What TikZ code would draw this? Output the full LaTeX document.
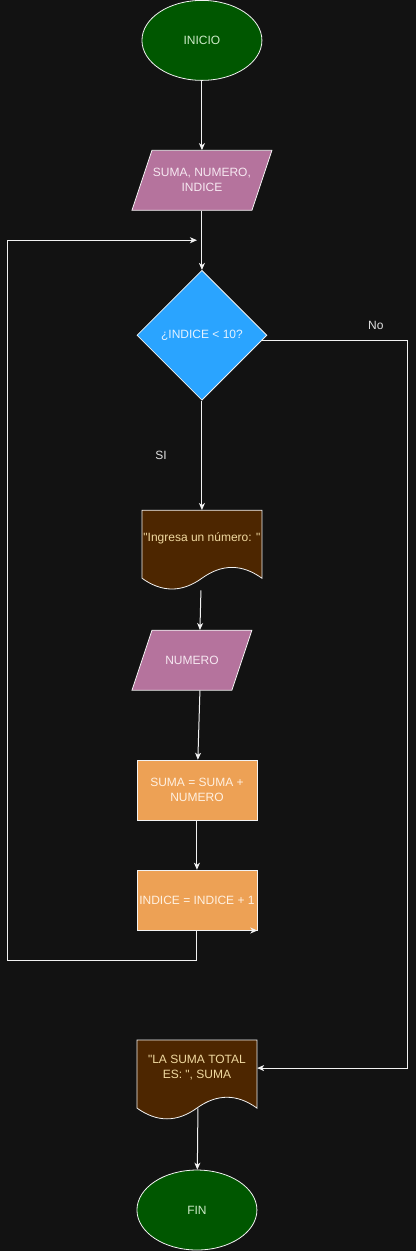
\documentclass[tikz,border=0pt]{standalone}
\usepackage{fontspec}
\newfontfamily\drawfont{Liberation Sans}
\usepackage{tikz}
\usetikzlibrary{shapes.geometric,arrows.meta,calc}

\definecolor{fondo}{HTML}{121212}
\definecolor{linea}{HTML}{F2F2F2}
\definecolor{verde}{HTML}{005700}
\definecolor{verdetxt}{HTML}{CDEBC8}
\definecolor{rosa}{HTML}{B5739D}
\definecolor{rosatxt}{HTML}{F6E8F1}
\definecolor{azul}{HTML}{2AA4FF}
\definecolor{azultxt}{HTML}{E3F2FF}
\definecolor{cafe}{HTML}{4D2600}
\definecolor{cafetxt}{HTML}{F0D9A0}
\definecolor{naranja}{HTML}{EDA155}
\definecolor{naranjatxt}{HTML}{FFF1E2}
\definecolor{etiq}{HTML}{E0E0E0}

\begin{document}
\begin{tikzpicture}[x=1pt, y=-1pt,
    texto/.style={font=\drawfont\fontsize{12}{15}\selectfont, align=center, inner sep=0pt},
    terminal/.style={texto, ellipse, draw=linea, fill=verde, text=verdetxt, line width=0.8pt, minimum width=120pt, minimum height=80pt},
    cuadro/.style={texto, minimum width=120pt, minimum height=60pt},
    proceso/.style={cuadro, draw=linea, fill=naranja, text=naranjatxt, line width=0.8pt},
    decision/.style={texto, diamond, aspect=1, draw=linea, fill=azul, text=azultxt, line width=0.8pt, minimum width=130pt, minimum height=130pt},
    etiqueta/.style={texto, text=etiq},
    forma/.style={draw=linea, line width=0.8pt},
    flecha/.style={draw=linea, line width=1pt, -{Stealth[length=7pt,width=6pt,inset=2pt]}}
  ]

    % fondo
    \fill[fondo] (0,0) rectangle (416,1251);

    % formas de entrada y salida
    \filldraw[forma, fill=rosa] (132,210) -- (152,150) -- (272,150) -- (252,210) -- cycle;
    \filldraw[forma, fill=rosa] (132,690) -- (152,630) -- (252,630) -- (232,690) -- cycle;
    \filldraw[forma, fill=cafe] (142,510) -- (262,510) -- (262,578)
        .. controls (242,563.6) and (222,563.6) .. (202,578)
        .. controls (182,592.4) and (162,592.4) .. (142,578) -- cycle;
    \filldraw[forma, fill=cafe] (137,1040) -- (257,1040) -- (257,1108)
        .. controls (237,1093.6) and (217,1093.6) .. (197,1108)
        .. controls (177,1122.4) and (157,1122.4) .. (137,1108) -- cycle;

    % nodos
    \node[terminal] (inicio) at (202,40) {INICIO};
    \node[cuadro, minimum width=140pt, text=rosatxt] (datos) at (202,180) {SUMA, NUMERO,\\INDICE};
    \node[decision] (cond) at (202,335) {¿INDICE < 10?};
    \node[cuadro, minimum height=56pt, text=cafetxt] (mensaje) at (202,538) {"Ingresa un número: "};
    \node[cuadro, text=rosatxt] (numero) at (192,660) {NUMERO};
    \node[proceso] (suma) at (197,790) {SUMA = SUMA +\\NUMERO};
    \node[proceso] (indice) at (197,900) {INDICE = INDICE + 1};
    \node[cuadro, minimum height=56pt, text=cafetxt] (resultado) at (197,1068) {"LA SUMA TOTAL\\ES: ", SUMA};
    \node[terminal] (fin) at (197,1210) {FIN};

    \node[etiqueta] (si) at (161,455) {SI};
    \node[etiqueta] (no) at (376,325) {No};

    \coordinate (retorno) at ($(datos.south)!0.5!(cond.north)$);

    % conectores
    \draw[flecha] (inicio) -- (datos);
    \draw[flecha] (datos) -- (cond);
    \draw[flecha] (cond) -- (mensaje);
    \draw[flecha] ($(mensaje.south)+(-1,24)$) -- ($(numero.north)+(8,0)$);
    \draw[flecha] ($(numero.south)+(8,0)$) -- (suma);
    \draw[flecha] (suma) -- (indice);
    \draw[flecha] (indice.south) -- ++(0,30) -- ++(-189,0) |- ($(retorno)+(-5,0)$);
    \draw[flecha] ($(indice.south east)+(-8,0)$) -- (indice.south east);
    \draw[flecha] ($(cond.east)+(-5,5)$) -- ++(145,0) |- (resultado.east);
    \draw[flecha] ($(resultado.south)+(1,12)$) -- (fin);

\end{tikzpicture}
\end{document}
